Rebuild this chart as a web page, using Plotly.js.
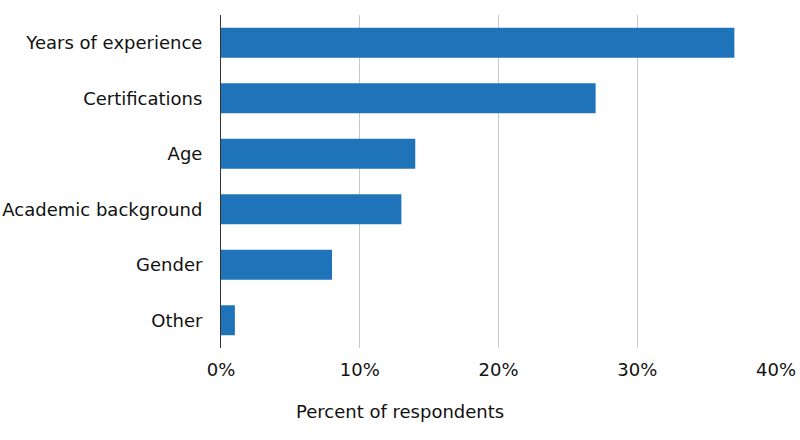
<!DOCTYPE html>
<html>
<head>
<meta charset="utf-8">
<script src="https://cdn.plot.ly/plotly-3.0.1.min.js"></script>
<style>html,body{margin:0;padding:0;background:#fff;}#chart{width:800px;height:440px;}</style>
</head>
<body>
<div id="chart"></div>
<script>
const categories = ["Years of experience", "Certifications", "Age", "Academic background", "Gender", "Other"];
const percents = [37, 27, 14, 13, 8, 1];
const tickValues = [0, 10, 20, 30, 40];
const tickLabels = ["0%", "10%", "20%", "30%", "40%"];
const axisTitle = "Percent of respondents";

const font = {family: "DejaVu Sans, Verdana, sans-serif", size: 18, color: "#111"};

Plotly.newPlot("chart", [{
  type: "bar",
  orientation: "h",
  y: categories,
  x: percents,
  marker: {color: "#1f74b9"},
  hoverinfo: "none"
}], {
  width: 800, height: 440,
  margin: {l: 221, r: 24, t: 15, b: 92},
  paper_bgcolor: "#fff", plot_bgcolor: "#fff",
  font: font,
  bargap: 0.46,
  showlegend: false,
  xaxis: {
    range: [0, 40],
    tickvals: tickValues,
    ticktext: tickLabels,
    showgrid: true, gridcolor: "#c8c8c8", gridwidth: 1,
    zeroline: false, showline: false,
    ticks: "", ticklabelstandoff: 9,
    tickfont: font,
    fixedrange: true
  },
  yaxis: {
    autorange: "reversed",
    showline: true, linecolor: "#333", linewidth: 1,
    showgrid: false, zeroline: false,
    ticks: "", ticklabelstandoff: 14,
    tickfont: font,
    fixedrange: true
  },
  annotations: [{
    text: axisTitle,
    xref: "paper", yref: "paper",
    x: (400 - 221) / 555, y: 0,
    xanchor: "center", yanchor: "middle",
    yshift: -63,
    showarrow: false,
    font: font
  }]
}, {staticPlot: true, displayModeBar: false});
</script>
</body>
</html>
